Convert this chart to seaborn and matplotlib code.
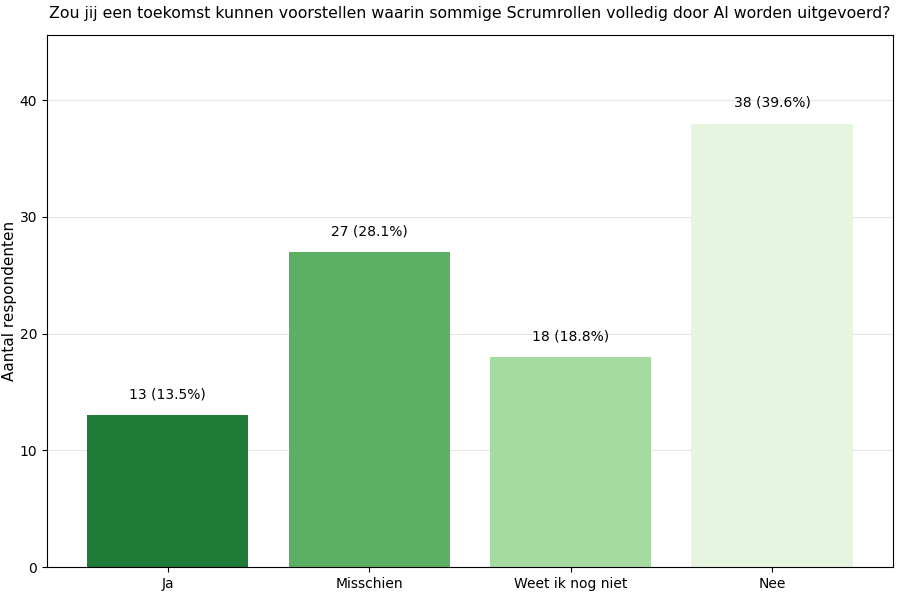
import pandas as pd
import seaborn as sns
import matplotlib.pyplot as plt

categories = ["Ja", "Misschien", "Weet ik nog niet", "Nee"]
counts = [13, 27, 18, 38]
percentages = [13.5, 28.1, 18.8, 39.6]
colors = ["#1e7b38", "#5bb064", "#a5dba0", "#e5f5e0"]

df = pd.DataFrame({"cat": categories, "n": counts})

fig = plt.figure(figsize=(9, 5.92), dpi=100)
ax = fig.add_axes([0.052, 0.042, 0.94, 0.899])

sns.barplot(data=df, x="cat", y="n", hue="cat", palette=colors, legend=False,
            width=0.8, saturation=1, ax=ax)

for i, (c, p) in enumerate(zip(counts, percentages)):
    ax.text(i, c + 1.2, f"{c} ({p}%)", ha="center", va="bottom", fontsize=10)

ax.set_xlim(-0.6, 3.6)
ax.set_ylim(0, 45.6)
ax.set_yticks([0, 10, 20, 30, 40])
ax.yaxis.grid(True, color="#e6e6e6", linewidth=0.8)
ax.set_axisbelow(True)
ax.set_xlabel("")
ax.set_ylabel("Aantal respondenten", fontsize=11, labelpad=2)
ax.tick_params(labelsize=10)
ax.set_title("Zou jij een toekomst kunnen voorstellen waarin sommige Scrumrollen volledig door AI worden uitgevoerd?",
             fontsize=11.3, pad=12)

plt.savefig("out.png", dpi=100)
